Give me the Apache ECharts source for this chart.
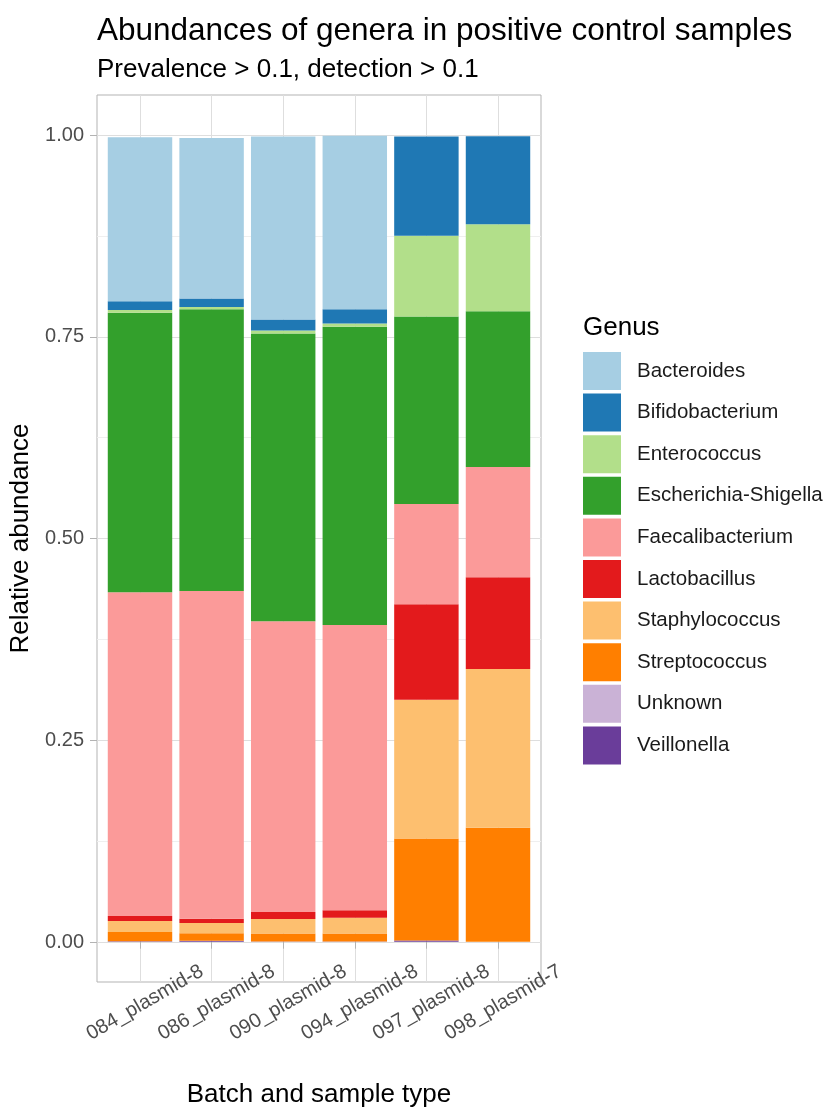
<!DOCTYPE html>
<html>
<head>
<meta charset="utf-8">
<script src="https://cdn.jsdelivr.net/npm/echarts@6/dist/echarts.min.js"></script>
<style>html,body{margin:0;padding:0;background:#fff;}#c{width:828px;height:1112px;}</style>
</head>
<body>
<div id="c"></div>
<script>
const categories = ['084_plasmid-8','086_plasmid-8','090_plasmid-8','094_plasmid-8','097_plasmid-8','098_plasmid-7'];
const genera = ['Bacteroides','Bifidobacterium','Enterococcus','Escherichia-Shigella','Faecalibacterium','Lactobacillus','Staphylococcus','Streptococcus','Unknown','Veillonella'];
const colors = ['#A6CEE3','#1F78B4','#B2DF8A','#33A02C','#FB9A99','#E31A1C','#FDBF6F','#FF7F00','#CAB2D6','#6A3D9A'];
const Bacteroides        = [0.2033, 0.1989, 0.2268, 0.2152, 0,      0];
const Bifidobacterium    = [0.0110, 0.0107, 0.0136, 0.0178, 0.1232, 0.1091];
const Enterococcus       = [0.0033, 0.0026, 0.0037, 0.0041, 0.1000, 0.1078];
const EscherichiaShigella= [0.3467, 0.3495, 0.3569, 0.3697, 0.2325, 0.1933];
const Faecalibacterium   = [0.4014, 0.4066, 0.3606, 0.3537, 0.1244, 0.1367];
const Lactobacillus      = [0.0062, 0.0050, 0.0087, 0.0095, 0.1185, 0.1136];
const Staphylococcus     = [0.0136, 0.0128, 0.0178, 0.0193, 0.1719, 0.1970];
const Streptococcus      = [0.0116, 0.0093, 0.0100, 0.0100, 0.1265, 0.1413];
const Unknown            = [0, 0, 0, 0, 0, 0];
const Veillonella        = [0.0005, 0.0012, 0.0003, 0.0003, 0.0015, 0];
const yTicks = [0, 0.25, 0.5, 0.75, 1];

const values = [Bacteroides, Bifidobacterium, Enterococcus, EscherichiaShigella, Faecalibacterium,
                Lactobacillus, Staphylococcus, Streptococcus, Unknown, Veillonella];

const FONT = "'Liberation Sans', Arial, Helvetica, sans-serif";
const chart = echarts.init(document.getElementById('c'), null, {renderer: 'canvas'});

const series = [];
for (let i = genera.length - 1; i >= 0; i--) {
  series.push({
    name: genera[i], type: 'bar', stack: 'total',
    xAxisIndex: 2, yAxisIndex: 2,
    barWidth: '90%',
    itemStyle: {color: colors[i]},
    data: values[i]
  });
}

chart.setOption({
  backgroundColor: '#ffffff',
  animation: false,
  textStyle: {fontFamily: FONT},
  title: [
    {text: 'Abundances of genera in positive control samples', left: 97, top: 15, padding: 0,
     textStyle: {fontFamily: FONT, fontSize: 31.5, fontWeight: 'normal', color: '#000'}},
    {text: 'Prevalence > 0.1, detection > 0.1', left: 97, top: 57, padding: 0,
     textStyle: {fontFamily: FONT, fontSize: 26, fontWeight: 'normal', color: '#000'}},
    {text: 'Genus', left: 583, top: 315, padding: 0,
     textStyle: {fontFamily: FONT, fontSize: 26, fontWeight: 'normal', color: '#000'}}
  ],
  legend: {
    orient: 'vertical', left: 583, top: 352, padding: 0,
    itemWidth: 38, itemHeight: 38, itemGap: 3.6,
    icon: 'rect',
    data: genera,
    textStyle: {fontFamily: FONT, fontSize: 20.5, color: '#1a1a1a', padding: [0,0,0,11]},
    selectedMode: false
  },
  color: colors,
  grid: [
    {left: 97, top: 95, width: 444, height: 887, show: true, borderColor: '#B3B3B3', borderWidth: 1, backgroundColor: 'transparent', containLabel: false, outerBoundsMode: 'none'},
    {left: 97, top: 135, width: 444, height: 807, containLabel: false, outerBoundsMode: 'none'},
    {left: 104.2, top: 95, width: 429.6, height: 887, containLabel: false, outerBoundsMode: 'none'}
  ],
  xAxis: [
    {gridIndex: 0, type: 'value', show: false},
    {gridIndex: 1, type: 'value', show: false},
    {gridIndex: 2, type: 'category', data: categories, boundaryGap: true,
     axisLine: {show: false},
     axisTick: {show: true, alignWithLabel: true, length: 7, lineStyle: {color: '#B3B3B3'}},
     splitLine: {show: true, alignWithLabel: true, lineStyle: {color: '#DEDEDE', width: 1}},
     axisLabel: {rotate: 30, align: 'center', verticalAlign: 'top', margin: 12,
                 fontFamily: FONT, fontSize: 20, color: '#4D4D4D'},
     name: 'Batch and sample type', nameLocation: 'middle', nameGap: 100,
     nameTextStyle: {fontFamily: FONT, fontSize: 26, color: '#000'}}
  ],
  yAxis: [
    {gridIndex: 0, type: 'value', show: false},
    {gridIndex: 1, type: 'value', min: 0, max: 1, interval: 0.25,
     axisLine: {show: false},
     axisTick: {show: true, length: 7, lineStyle: {color: '#B3B3B3'}},
     minorTick: {show: false, splitNumber: 2},
     splitLine: {show: true, lineStyle: {color: '#DEDEDE', width: 1}},
     minorSplitLine: {show: true, lineStyle: {color: '#EFEFEF', width: 1}},
     axisLabel: {formatter: v => v.toFixed(2), margin: 13, fontFamily: FONT, fontSize: 20, color: '#4D4D4D'},
     name: 'Relative abundance', nameLocation: 'middle', nameGap: 56, nameRotate: 90,
     nameTextStyle: {fontFamily: FONT, fontSize: 26, color: '#000'}},
    {gridIndex: 2, type: 'value', min: -0.05, max: 1.05, show: false}
  ],
  series: series
});
</script>
</body>
</html>
